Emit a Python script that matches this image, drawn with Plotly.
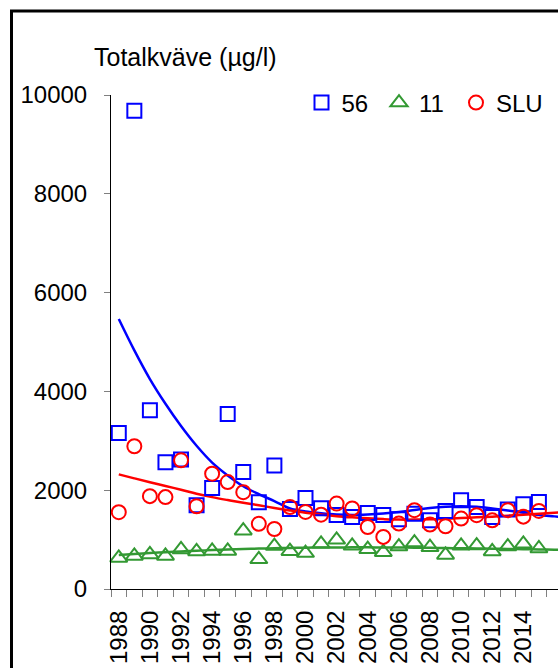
import plotly.graph_objects as go

years = list(range(1988, 2016))

st56 = [3160, 9680, 3620, 2565, 2620, 1695, 2045, 3540, 2370, 1755, 2500, 1620, 1840, 1635,
        1500, 1460, 1540, 1500, 1410, 1525, 1390, 1580, 1795, 1660, 1460, 1610, 1715, 1760]
st11 = [630, 670, 700, 670, 800, 760, 770, 770, 1180, 600, 870, 765, 728, 915,
        995, 875, 805, 745, 860, 940, 845, 690, 875, 880, 760, 860, 915, 820]
slu = [1555, 2890, 1880, 1860, 2605, 1675, 2335, 2165, 1960, 1320, 1215, 1660, 1560, 1505,
       1730, 1630, 1255, 1055, 1325, 1595, 1305, 1270, 1425, 1495, 1390, 1595, 1465, 1580]

# trend curves (one value per year, plus the run to the edge)
trend_years = list(range(1988, 2018))
trend56 = [5465, 4830, 4250, 3750, 3300, 2900, 2560, 2300, 2080, 1920, 1780, 1630, 1570, 1535,
           1510, 1500, 1510, 1530, 1560, 1600, 1640, 1665, 1675, 1665, 1630, 1590, 1545, 1500,
           1470, 1440]
trend11 = [690, 710, 728, 745, 760, 775, 788, 800, 810, 818, 826, 832, 836, 840,
           842, 843, 843, 842, 840, 837, 833, 829, 825, 820, 815, 810, 805, 800,
           795, 790]
trendslu = [2320, 2240, 2160, 2085, 2010, 1930, 1860, 1800, 1745, 1695, 1640, 1590, 1545, 1510,
            1475, 1450, 1430, 1415, 1405, 1405, 1410, 1420, 1435, 1450, 1465, 1485, 1505, 1525,
            1545, 1565]

tick_years = list(range(1988, 2015, 2))
tick_text = [str(y) for y in tick_years]
y_ticks = [0, 2000, 4000, 6000, 8000, 10000]
y_text = [str(v) for v in y_ticks]

FONT = "Arial, Liberation Sans, sans-serif"
BLUE = "#0000ff"
GREEN = "#339933"
RED = "#ff0000"

W, H = 558, 668
ML, MR, MT, MB = 111, 0, 95, 79
PW, PH = W - ML - MR, H - MT - MB
PX = 15.56  # px per category
x_hi = 1987.5 + PW / PX

fig = go.Figure()

series = [
    ("56", st56, trend56, BLUE, "square-open", 14, "legend", 301.5),
    ("11", st11, trend11, GREEN, "triangle-up-open", 15, "legend2", 379),
    ("SLU", slu, trendslu, RED, "circle-open", 14, "legend3", 456),
]

for name, vals, tr, col, sym, sz, lg, lx in series:
    fig.add_trace(go.Scatter(x=trend_years, y=tr, mode="lines",
                             line=dict(color=col, width=2.5, shape="spline", smoothing=1.0),
                             showlegend=False, hoverinfo="skip"))

for name, vals, tr, col, sym, sz, lg, lx in series:
    fig.add_trace(go.Scatter(x=years, y=vals, mode="markers", name=name, legend=lg,
                             marker=dict(symbol=sym, size=sz, color=col,
                                         line=dict(color=col, width=2)),
                             cliponaxis=False))

legends = {}
for name, vals, tr, col, sym, sz, lg, lx in series:
    legends[lg] = dict(orientation="h", x=(lx - ML) / PW, xanchor="left",
                       y=1 - 8 / PH, yanchor="middle", font=dict(size=24),
                       bgcolor="rgba(0,0,0,0)", itemwidth=30)

fig.update_layout(
    width=W, height=H,
    margin=dict(l=ML, r=MR, t=MT, b=MB, pad=0),
    paper_bgcolor="white", plot_bgcolor="white",
    font=dict(family=FONT, size=24, color="black"),
    showlegend=True,
    **legends,
    xaxis=dict(range=[1987.5, x_hi], showgrid=False, zeroline=False,
               showline=True, linecolor="black", linewidth=1,
               tickmode="array", tickvals=tick_years, ticktext=tick_text,
               tickangle=-90, ticks="", ticklabelstandoff=11,
               tickfont=dict(size=24),
               minor=dict(tick0=1987.5, dtick=1, ticks="outside", ticklen=7,
                          tickcolor="#808080", tickwidth=1, showgrid=False)),
    yaxis=dict(range=[0, 10000], showgrid=False, zeroline=False,
               showline=True, linecolor="black", linewidth=1,
               tickmode="array", tickvals=y_ticks, ticktext=y_text,
               ticks="outside", ticklen=6,
               tickcolor="#808080", tickwidth=1, ticklabelstandoff=12,
               tickfont=dict(size=24)),
    annotations=[dict(text="Totalkväve (µg/l)", xref="paper", yref="paper",
                      x=(92 - ML) / PW, y=1 + (MT - 57) / PH, xanchor="left", yanchor="middle",
                      showarrow=False, font=dict(size=25))],
    shapes=[dict(type="rect", xref="paper", yref="paper",
                 x0=(11.5 - ML) / PW, x1=1.1, y0=-0.3, y1=1 + (MT - 11) / PH,
                 line=dict(color="black", width=3), fillcolor="rgba(0,0,0,0)", layer="below")],
)

fig.write_html("out.html", config={"displayModeBar": False},
               post_script="document.body.style.margin='0px';")
